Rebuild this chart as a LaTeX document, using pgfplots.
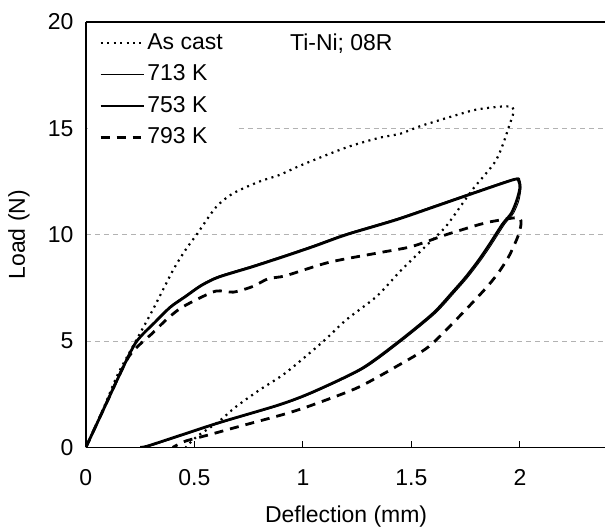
\documentclass[border=0pt]{standalone}
\usepackage{fontspec}
\setmainfont{Liberation Sans}
\usepackage{pgfplots}
\pgfplotsset{compat=1.18}

\begin{document}
\begin{tikzpicture}
\begin{axis}[
  scale only axis, width=520pt, height=426pt,
  xmin=0, xmax=2.393, ymin=0, ymax=20,
  axis x line=box, axis y line=left,
  axis line style={line width=1.6pt, -},
  font=\fontsize{23}{27}\selectfont,
  /pgf/number format/assume math mode=true,
  xtick={0,0.5,1,1.5,2}, ytick={0,5,10,15,20},
  xtick pos=bottom, tick align=inside,
  x tick style={line width=1pt, black}, major tick length=6pt,
  y tick style={draw=none},
  ymajorgrids, grid style={gray!60, line width=0.8pt, dash pattern=on 5pt off 4pt},
  xticklabel style={yshift=-19pt},
  yticklabel style={xshift=-9pt},
  xlabel={Deflection (mm)},
  ylabel={Load (N)},
  xlabel style={at={(axis description cs:0.501,0)}, anchor=north, yshift=-55pt},
  ylabel style={at={(axis description cs:-0.129,0.5)}, anchor=center},
  legend cell align=left,
  legend style={draw=none, fill=white, at={(axis description cs:0.004,0.99)},
    anchor=north west, inner xsep=11pt, inner ysep=5pt, row sep=8pt,
    nodes={inner sep=1.5pt, text height=16.5pt, text depth=4pt}},
  legend image code/.code={\draw[#1] (0pt,0pt) -- (44pt,0pt);},
  every axis plot/.append style={smooth, tension=0.45},
]
% as cast
\addplot[black, line width=2.2pt, dash pattern=on 2pt off 4.5pt] coordinates {
 (0,0) (0.05,1.1) (0.10,2.3) (0.15,3.5) (0.23,5.0) (0.31,6.5) (0.40,8.3) (0.46,9.3)
 (0.51,10.0) (0.60,11.3) (0.68,11.95) (0.80,12.5) (0.89,12.8) (1.0,13.3) (1.20,14.1)
 (1.35,14.55) (1.45,14.75) (1.54,15.1) (1.70,15.6) (1.81,15.9) (1.965,16.0)
 (1.95,15.1) (1.89,13.5) (1.78,12.1) (1.66,10.4) (1.57,9.5) (1.45,8.3) (1.34,7.1)
 (1.20,6.0) (1.09,4.95) (0.92,3.5) (0.80,2.7) (0.69,1.9) (0.61,1.2) (0.51,0.5) (0.46,0)
};
\addlegendentry{As cast}
% 713 K
\addplot[black, line width=0.9pt] coordinates {
 (0,0) (0.05,1.1) (0.10,2.2) (0.15,3.3) (0.23,4.95) (0.32,5.95) (0.39,6.65) (0.46,7.15)
 (0.53,7.65) (0.61,8.05) (0.77,8.55) (0.92,9.05) (1.05,9.5) (1.20,10.05) (1.43,10.75)
 (1.63,11.45) (1.80,12.05) (1.98,12.65) (2.0,12.55) (2.005,12.2)
 (1.995,11.6) (1.97,11.0) (1.93,10.5) (1.87,9.55) (1.82,8.8) (1.76,8.0) (1.70,7.3)
 (1.61,6.3) (1.455,5.0) (1.28,3.7) (1.055,2.6) (0.90,2.0) (0.62,1.15) (0.39,0.38)
 (0.29,0.05) (0.26,0)
};
\addlegendentry{713 K}
% 753 K
\addplot[black, line width=2.8pt] coordinates {
 (0,0) (0.05,1.1) (0.10,2.2) (0.15,3.3) (0.23,4.93) (0.32,5.9) (0.39,6.6) (0.46,7.1)
 (0.53,7.6) (0.61,8.0) (0.77,8.5) (0.92,9.0) (1.05,9.45) (1.20,10.0) (1.43,10.7)
 (1.63,11.4) (1.80,12.0) (1.975,12.6) (1.995,12.5) (2.0,12.2)
 (1.985,11.6) (1.96,11.0) (1.92,10.5) (1.86,9.55) (1.81,8.8) (1.75,8.0) (1.69,7.3)
 (1.60,6.3) (1.445,5.0) (1.27,3.7) (1.045,2.6) (0.89,2.0) (0.61,1.15) (0.38,0.38)
 (0.28,0.05) (0.25,0)
};
\addlegendentry{753 K}
% 793 K
\addplot[black, line width=2.8pt, dash pattern=on 9pt off 7pt] coordinates {
 (0,0) (0.10,2.2) (0.20,4.3) (0.31,5.4) (0.37,6.0) (0.43,6.5) (0.50,6.9) (0.60,7.35)
 (0.68,7.3) (0.77,7.57) (0.84,7.93) (0.92,8.07) (1.12,8.7) (1.35,9.15) (1.50,9.44)
 (1.66,10.0) (1.81,10.47) (1.86,10.6) (1.99,10.8) (2.005,10.5) (1.99,9.9) (1.95,9.0)
 (1.90,8.2) (1.84,7.45) (1.72,6.15) (1.58,4.74) (1.43,3.8) (1.25,2.8) (1.045,2.0)
 (0.92,1.58) (0.69,0.94) (0.57,0.6) (0.46,0.3) (0.40,0)
};
\addlegendentry{793 K}
\node[anchor=west, inner sep=0pt] at (axis cs:0.94,19.0) {Ti-Ni; 08R};
\coordinate (sw) at (rel axis cs:0,0);
\coordinate (ne) at (rel axis cs:1,1);
\end{axis}
\path (sw) ++(-86pt,-83pt);
\path (ne) ++(0pt,22pt);
\end{tikzpicture}
\end{document}
